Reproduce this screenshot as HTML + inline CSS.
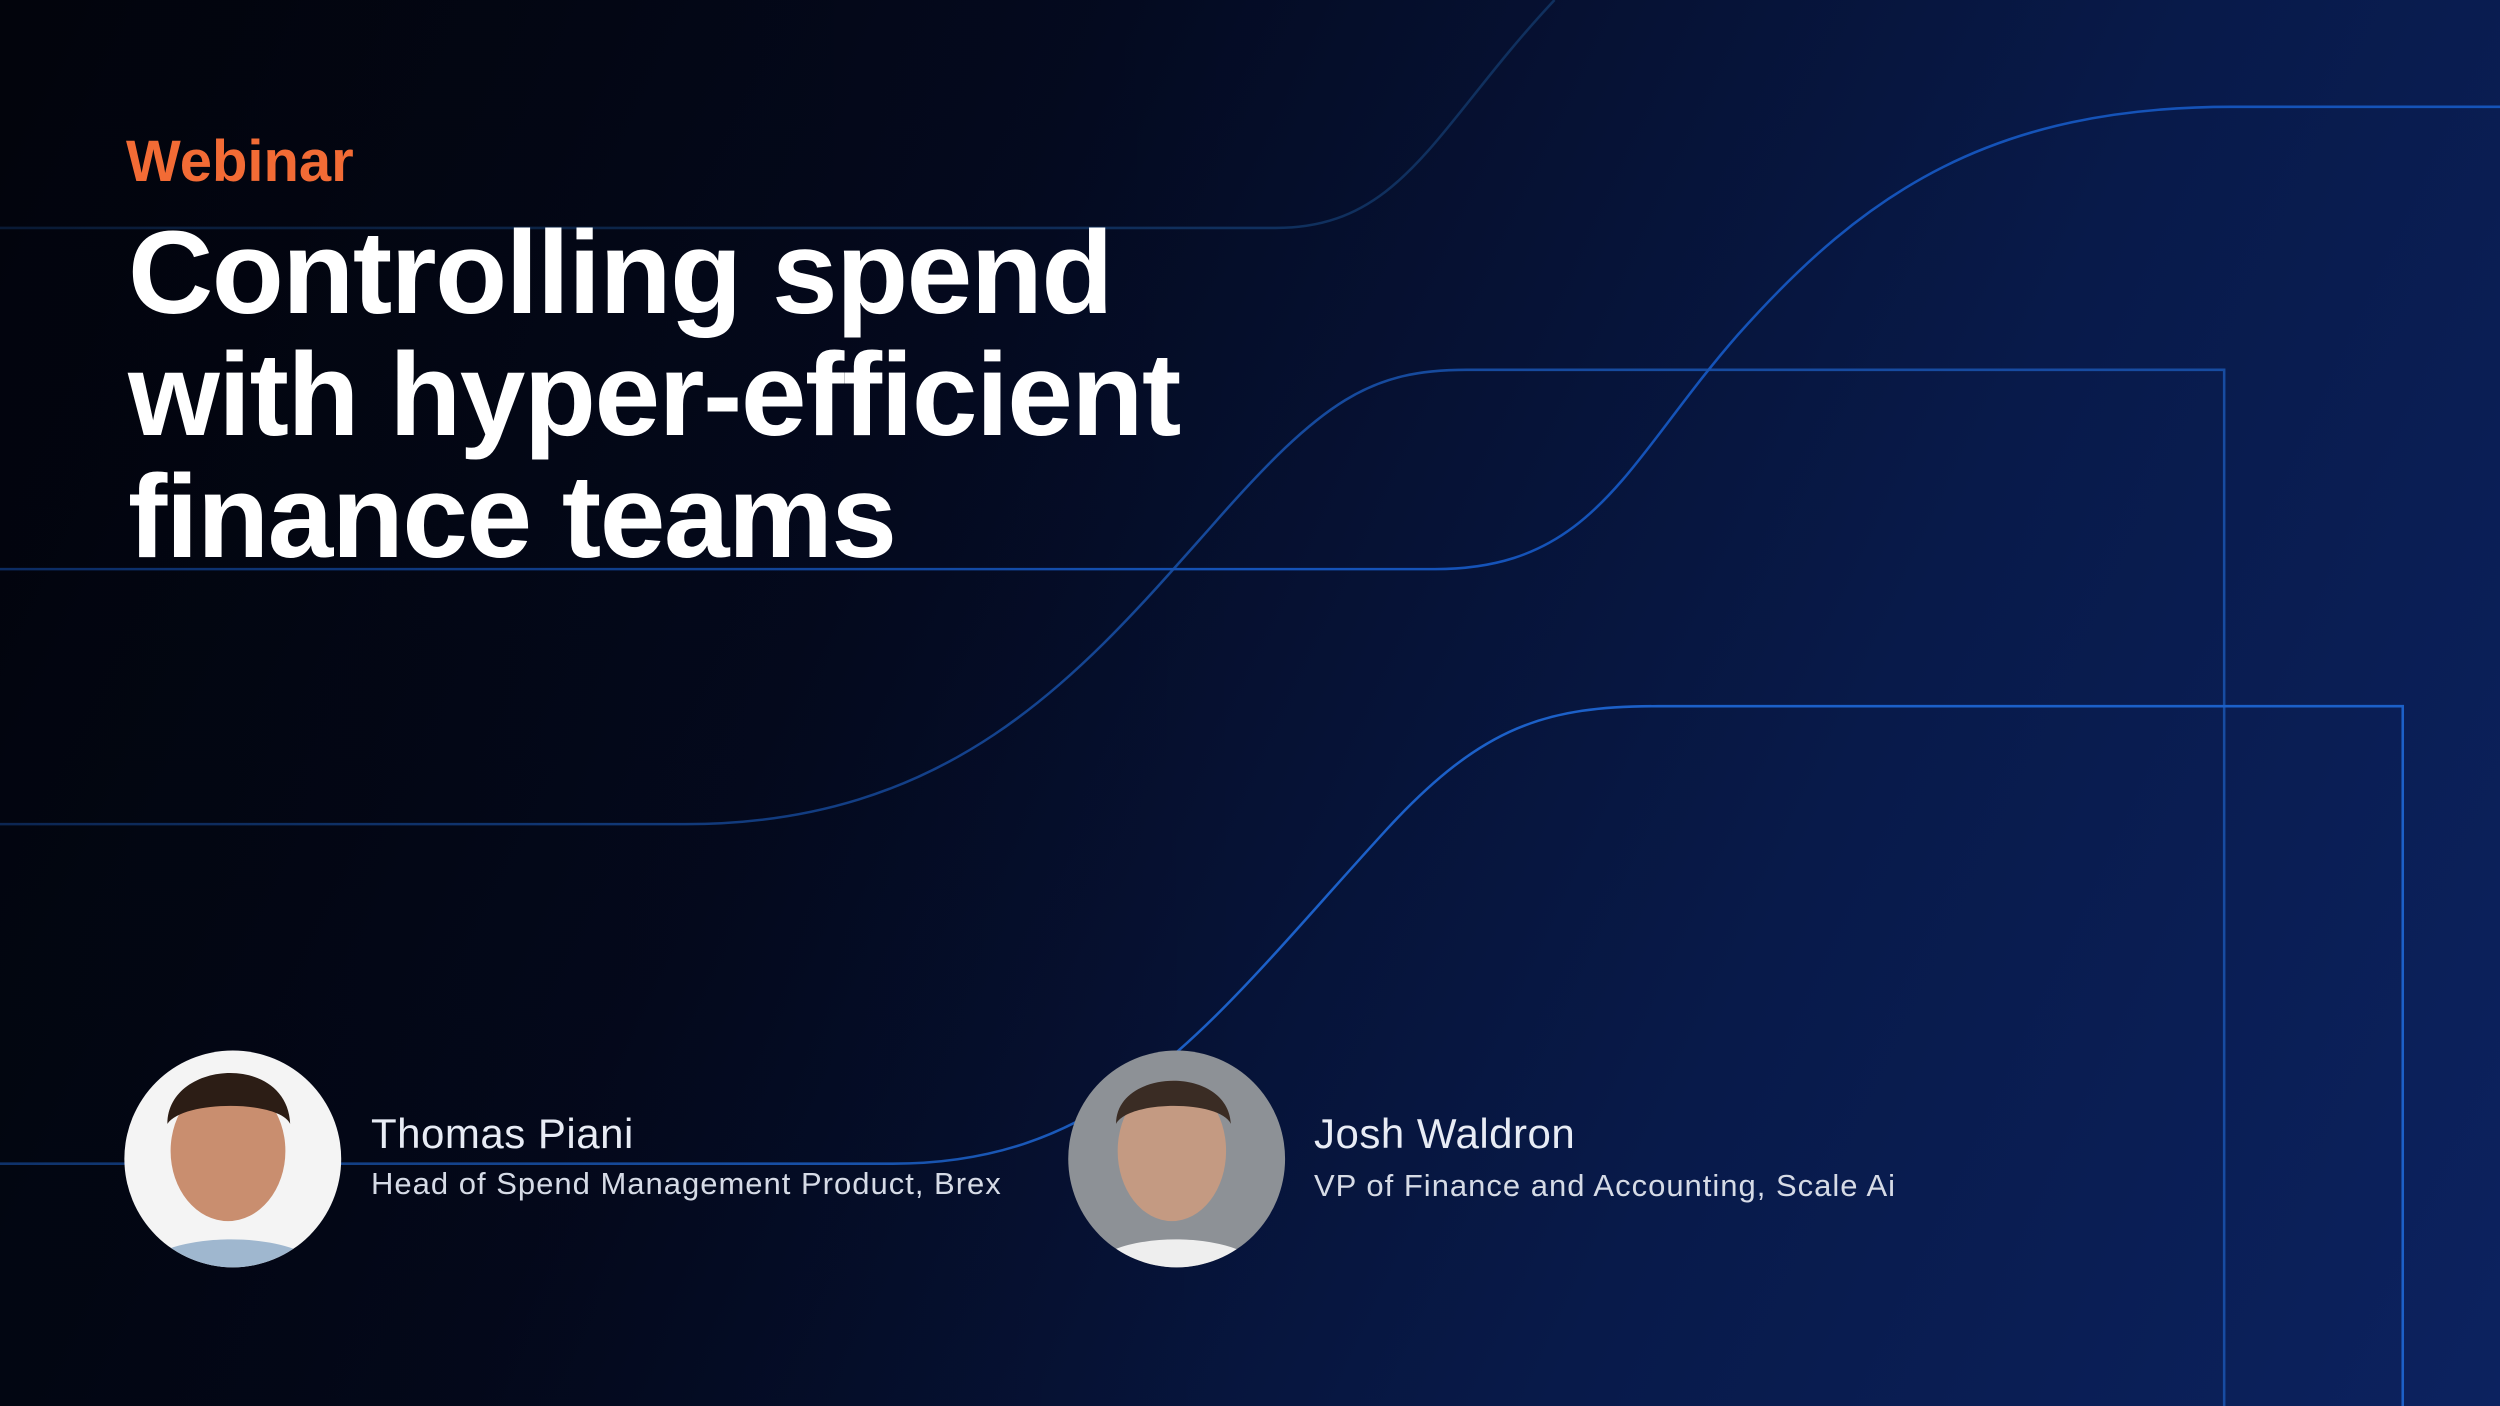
<!DOCTYPE html>
<html><head><meta charset="utf-8"><style>
html,body{margin:0;padding:0}
body{width:2500px;height:1406px;overflow:hidden;position:relative;font-family:"Liberation Sans",sans-serif;
background:linear-gradient(115deg,#02040c 0%,#040a20 35%,#081a4a 70%,#0c225f 100%);}
svg{position:absolute;left:0;top:0}
.t{position:absolute;color:#fff;white-space:nowrap}
</style></head><body>
<svg width="2500" height="1406" viewBox="0 0 1568 882" preserveAspectRatio="none">
<g fill="none" stroke-width="1.6">
<path d="M0 143 H800 C880 143 900 80 975 0" stroke="#10305e"/>
<path d="M0 357 H900 C1000 357 1020 290 1090 210 C1170 120 1250 67 1400 67 H1568" stroke="#1553b8"/>
<path d="M0 517 H430 C600 517 680 420 760 330 C830 250 860 232 920 232 H1395 V882" stroke="#1a55b0" opacity="0.85"/>
<path d="M0 730 H560 C700 730 760 640 870 520 C930 455 970 443 1040 443 H1507 V882" stroke="#1c60c8"/>
</g>
<rect x="0" y="0" width="1568" height="882" fill="url(#fade)"/>
<defs><linearGradient id="fade" x1="0" y1="0" x2="1" y2="0"><stop offset="0" stop-color="#02040c" stop-opacity="0.5"/><stop offset="0.5" stop-color="#02040c" stop-opacity="0"/></linearGradient>
<clipPath id="c1"><circle cx="146" cy="727" r="68"/></clipPath>
<clipPath id="c2"><circle cx="738" cy="727" r="68"/></clipPath></defs>
<g clip-path="url(#c1)">
<rect x="70" y="650" width="160" height="160" fill="#f4f4f4"/>
<ellipse cx="143" cy="722" rx="36" ry="44" fill="#c98e6f"/>
<path d="M105 705 C105 665 180 660 182 705 C175 690 115 690 105 705Z" fill="#2c1d15"/>
<path d="M85 800 C95 770 195 770 205 800Z" fill="#9fb7cf"/>
</g>
<g clip-path="url(#c2)">
<rect x="660" y="650" width="160" height="160" fill="#8d9196"/>
<ellipse cx="735" cy="722" rx="34" ry="44" fill="#c49a82"/>
<path d="M700 705 C700 670 770 668 772 705 C765 690 708 690 700 705Z" fill="#3a2c24"/>
<path d="M680 800 C690 770 785 770 795 800Z" fill="#eeeeee"/>
</g>
</svg>
<div class="t" style="left:126px;top:128px;font-size:58px;font-weight:bold;color:#f26b35">Webinar</div>
<div class="t" style="left:128px;top:212px;font-size:118px;font-weight:bold;line-height:122px;letter-spacing:-1.5px">Controlling spend<br>with hyper-efficient<br>finance teams</div>
<div class="t" style="left:371px;top:1110px;font-size:42px;color:#e8ecf5;letter-spacing:0.5px">Thomas Piani</div>
<div class="t" style="left:371px;top:1166px;font-size:31px;color:#d6dbe6;letter-spacing:1px">Head of Spend Management Product, Brex</div>
<div class="t" style="left:1314px;top:1110px;font-size:42px;color:#e8ecf5;letter-spacing:0.5px">Josh Waldron</div>
<div class="t" style="left:1314px;top:1168px;font-size:31px;color:#d6dbe6;letter-spacing:1px">VP of Finance and Accounting, Scale Ai</div>
</body></html>
